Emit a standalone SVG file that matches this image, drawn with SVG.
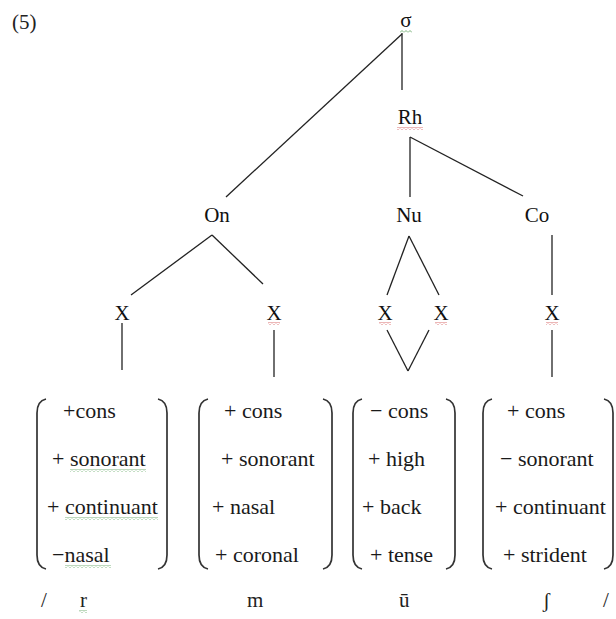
<svg xmlns="http://www.w3.org/2000/svg" width="616" height="619" viewBox="0 0 616 619">
<defs>
<style>
.lbl{font-family:"Liberation Serif","DejaVu Serif",serif;font-size:21px;fill:#111;text-anchor:middle}
.ft{font-family:"Liberation Serif","DejaVu Serif",serif;font-size:22px;fill:#1a1a1a}
.sym{font-family:"Liberation Serif","DejaVu Serif",serif;font-size:21px;fill:#222}
.ln{stroke:#222;stroke-width:1.3;fill:none}
.br{stroke:#333;stroke-width:1.7;fill:none}
</style>
<pattern id="sqg" width="4" height="3" patternUnits="userSpaceOnUse"><path d="M0 2.5 L2 0.5 L4 2.5" fill="none" stroke="#5a9e5a" stroke-width="0.8"/></pattern>
<pattern id="sqr" width="4" height="3" patternUnits="userSpaceOnUse"><path d="M0 2.5 L2 0.5 L4 2.5" fill="none" stroke="#d04a4a" stroke-width="0.8"/></pattern>
</defs>
<rect width="616" height="619" fill="#fff"/>
<text class="sym" x="12" y="29">(5)</text>

<g id="connectors">
<line class="ln" x1="402" y1="33" x2="402" y2="90"/>
<line class="ln" x1="402" y1="34" x2="226" y2="197"/>
<line class="ln" x1="410" y1="137" x2="410" y2="197"/>
<line class="ln" x1="410" y1="137" x2="523" y2="196"/>
<line class="ln" x1="212" y1="235" x2="131" y2="295"/>
<line class="ln" x1="212" y1="235" x2="263" y2="284"/>
<line class="ln" x1="409" y1="236" x2="387" y2="295"/>
<line class="ln" x1="409" y1="236" x2="439" y2="295"/>
<line class="ln" x1="552" y1="235" x2="552" y2="295"/>
<line class="ln" x1="122" y1="323" x2="122" y2="370"/>
<line class="ln" x1="274" y1="330" x2="274" y2="377"/>
<line class="ln" x1="387" y1="330" x2="408" y2="371"/>
<line class="ln" x1="429" y1="330" x2="408" y2="371"/>
<line class="ln" x1="552" y1="330" x2="552" y2="377"/>
</g>

<g id="sigma"><text class="lbl" x="406" y="27">σ</text></g>
<g id="rh"><text class="lbl" x="410" y="124">Rh</text></g>
<g id="on"><text class="lbl" x="217" y="222">On</text></g>
<g id="nu"><text class="lbl" x="409" y="222">Nu</text></g>
<g id="co"><text class="lbl" x="537" y="222">Co</text></g>
<g id="x1"><text class="lbl" x="122" y="320">X</text></g>
<g id="x2"><text class="lbl" x="274" y="320">X</text></g>
<g id="x3"><text class="lbl" x="385" y="320">X</text></g>
<g id="x4"><text class="lbl" x="441" y="320">X</text></g>
<g id="x5"><text class="lbl" x="552" y="320">X</text></g>

<g id="m1">
<path class="br" d="M46 399 Q37 401 37 413 V555 Q37 567 46 569"/>
<path class="br" d="M158 399 Q167 401 167 413 V555 Q167 567 158 569"/>
<text class="ft" x="63" y="418">+cons</text>
<text class="ft" x="52" y="466">+ sonorant</text>
<text class="ft" x="47" y="514">+ continuant</text>
<text class="ft" x="52" y="562">−nasal</text>
</g>
<g id="m2">
<path class="br" d="M208 399 Q199 401 199 413 V555 Q199 567 208 569"/>
<path class="br" d="M323 399 Q332 401 332 413 V555 Q332 567 323 569"/>
<text class="ft" x="224" y="418">+ cons</text>
<text class="ft" x="221" y="466">+ sonorant</text>
<text class="ft" x="212" y="514">+ nasal</text>
<text class="ft" x="215" y="562">+ coronal</text>
</g>
<g id="m3">
<path class="br" d="M362 399 Q353 401 353 413 V555 Q353 567 362 569"/>
<path class="br" d="M446 399 Q455 401 455 413 V555 Q455 567 446 569"/>
<text class="ft" x="370" y="418">− cons</text>
<text class="ft" x="368" y="466">+ high</text>
<text class="ft" x="362" y="514">+ back</text>
<text class="ft" x="370" y="562">+ tense</text>
</g>
<g id="m4">
<path class="br" d="M492 399 Q483 401 483 413 V555 Q483 567 492 569"/>
<path class="br" d="M604 399 Q613 401 613 413 V555 Q613 567 604 569"/>
<text class="ft" x="507" y="418">+ cons</text>
<text class="ft" x="500" y="466">− sonorant</text>
<text class="ft" x="495" y="514">+ continuant</text>
<text class="ft" x="503" y="562">+ strident</text>
</g>

<g id="segments">
<text class="sym" x="41" y="607">/</text>
<text class="sym" x="80" y="607">r</text>
<text class="sym" x="247" y="607">m</text>
<text class="sym" x="399" y="607">ū</text>
<text class="sym" x="543" y="607">ʃ</text>
<text class="sym" x="603" y="607">/</text>
</g>

<g id="squiggles">
<rect x="400" y="30" width="12" height="3" fill="url(#sqg)"/>
<rect x="397" y="127" width="26" height="3" fill="url(#sqr)"/>
<rect x="268" y="322" width="12" height="3" fill="url(#sqr)"/>
<rect x="379" y="322" width="12" height="3" fill="url(#sqr)"/>
<rect x="435" y="322" width="12" height="3" fill="url(#sqr)"/>
<rect x="546" y="322" width="12" height="3" fill="url(#sqr)"/>
<rect x="70" y="469" width="76" height="3" fill="url(#sqg)"/>
<rect x="65" y="517" width="93" height="3" fill="url(#sqg)"/>
<rect x="65" y="565" width="46" height="3" fill="url(#sqg)"/>
<rect x="79" y="610" width="8" height="3" fill="url(#sqg)"/>
</g>
</svg>
